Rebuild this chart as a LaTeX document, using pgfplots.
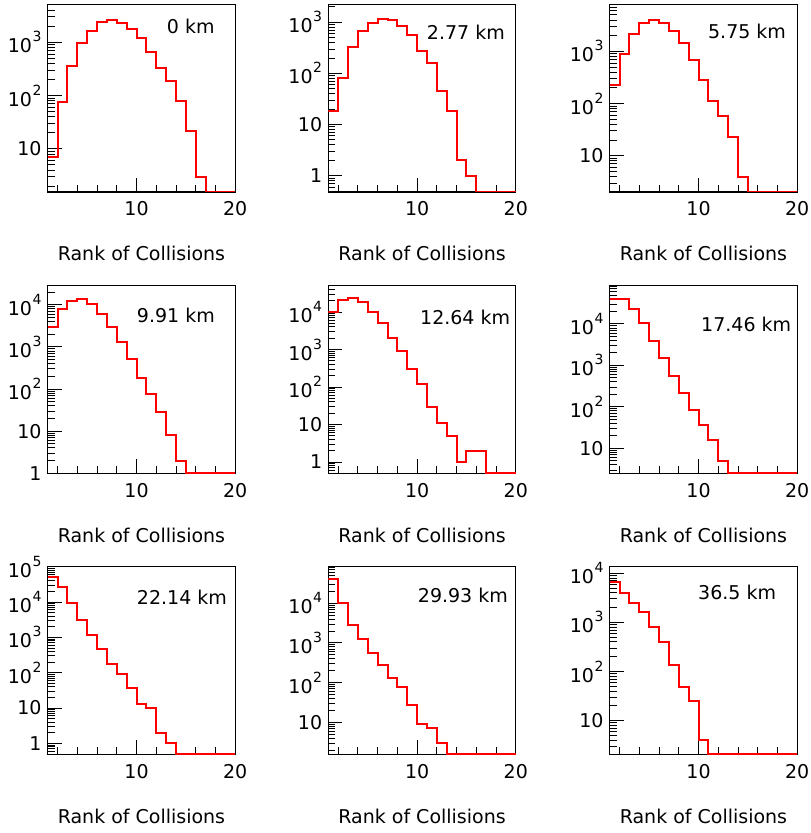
\documentclass[border=0pt]{standalone}
\usepackage{fontspec}
\setmainfont{DejaVu Sans}
\usepackage{pgfplots}
\pgfplotsset{compat=1.18}
\definecolor{rootred}{RGB}{255,0,0}
\newcommand{\myfnt}{\fontsize{19}{22}\selectfont}
\newcommand{\sx}[1]{10\kern0.6pt\raisebox{11pt}{\fontsize{14}{14}\selectfont #1}}
\pgfplotsset{
  every axis/.append style={
    scale only axis, width=187.5pt, height=187.5pt,
    anchor=south west,
    xmin=1, xmax=20,
    xtick={10,20}, xticklabels={10,20},
    minor xtick={2,4,6,8,12,14,16,18},
    tick align=inside, xtick pos=left, ytick pos=left,
    major tick length=14pt, minor tick length=7pt,
    tick style={black, line width=0.9pt},
    axis line style={black, line width=1.1pt},
    tick label style={font=\myfnt},
    xticklabel style={anchor=base, inner sep=0pt, yshift=-24pt},
    yticklabel style={anchor=east, inner sep=0pt, xshift=-6pt},
    xlabel={Rank of Collisions},
    label style={font=\myfnt},
    xlabel style={at={(rel axis cs:0.5,0)}, anchor=base, inner sep=0pt, yshift=-69pt},
  },
}
\begin{document}
\begin{tikzpicture}[x=1pt,y=1pt]
\useasboundingbox (0,0) rectangle (811,833);
% Row 1
\begin{semilogyaxis}[at={(47.7pt,641pt)}, ymin=1.55, ymax=5100,
  ytick={10,100,1000}, yticklabels={10,\sx{2},\sx{3}},
  minor ytick={2,3,4,5,6,7,8,9,20,30,40,50,60,70,80,90,200,300,400,500,600,700,800,900,2000,3000,4000,5000}]
\addplot[const plot, color=rootred, line width=2pt, mark=none] coordinates {(1,7.1) (2,77) (3,364) (4,980) (5,1650) (6,2440) (7,2590) (8,2330) (9,1750) (10,1190) (11,658) (12,334) (13,185) (14,80) (15,22) (16,3) (17,1.55) (20,1.55)};
\node[font=\myfnt, anchor=west, inner sep=0pt] at (rel axis cs:0.635,0.883) {0 km};
\end{semilogyaxis}
\begin{semilogyaxis}[at={(328.3pt,641pt)}, ymin=0.48, ymax=2220,
  ytick={1,10,100,1000}, yticklabels={1,10,\sx{2},\sx{3}},
  minor ytick={0.5,0.6,0.7,0.8,0.9,2,3,4,5,6,7,8,9,20,30,40,50,60,70,80,90,200,300,400,500,600,700,800,900,2000}]
\addplot[const plot, color=rootred, line width=2pt, mark=none] coordinates {(1,18) (2,80) (3,322) (4,684) (5,968) (6,1160) (7,1110) (8,846) (9,563) (10,277) (11,156) (12,45) (13,18) (14,2) (15,1) (16,0.48) (20,0.48)};
\node[font=\myfnt, anchor=west, inner sep=0pt] at (rel axis cs:0.525,0.853) {2.77 km};
\end{semilogyaxis}
\begin{semilogyaxis}[at={(609.7pt,641pt)}, ymin=2.02, ymax=7920,
  ytick={10,100,1000}, yticklabels={10,\sx{2},\sx{3}},
  minor ytick={3,4,5,6,7,8,9,20,30,40,50,60,70,80,90,200,300,400,500,600,700,800,900,2000,3000,4000,5000,6000,7000}]
\addplot[const plot, color=rootred, line width=2pt, mark=none] coordinates {(1,222) (2,887) (3,2170) (4,3480) (5,3910) (6,3480) (7,2510) (8,1440) (9,690) (10,286) (11,113) (12,59) (13,23) (14,4) (15,2.02) (20,2.02)};
\node[font=\myfnt, anchor=west, inner sep=0pt] at (rel axis cs:0.524,0.856) {5.75 km};
\end{semilogyaxis}
% Row 2
\begin{semilogyaxis}[at={(47.7pt,359.7pt)}, ymin=1, ymax=28200,
  ytick={1,10,100,1000,10000}, yticklabels={1,10,\sx{2},\sx{3},\sx{4}},
  minor ytick={2,3,4,5,6,7,8,9,20,30,40,50,60,70,80,90,200,300,400,500,600,700,800,900,2000,3000,4000,5000,6000,7000,8000,9000,20000}]
\addplot[const plot, color=rootred, line width=2pt, mark=none] coordinates {(1,2920) (2,7900) (3,12400) (4,13400) (5,10200) (6,6020) (7,2920) (8,1290) (9,521) (10,182) (11,75) (12,29) (13,8) (14,2) (15,1) (20,1)};
\node[font=\myfnt, anchor=west, inner sep=0pt] at (rel axis cs:0.475,0.84) {9.91 km};
\end{semilogyaxis}
\begin{semilogyaxis}[at={(328.3pt,359.7pt)}, ymin=0.5, ymax=50000,
  ytick={1,10,100,1000,10000}, yticklabels={1,10,\sx{2},\sx{3},\sx{4}},
  minor ytick={0.6,0.7,0.8,0.9,2,3,4,5,6,7,8,9,20,30,40,50,60,70,80,90,200,300,400,500,600,700,800,900,2000,3000,4000,5000,6000,7000,8000,9000,20000,30000,40000}]
\addplot[const plot, color=rootred, line width=2pt, mark=none] coordinates {(1,10000) (2,20800) (3,23500) (4,18000) (5,9800) (6,5000) (7,2040) (8,885) (9,300) (10,120) (11,29) (12,11) (13,5) (14,1) (15,2) (16,2) (17,0.5) (20,0.5)};
\node[font=\myfnt, anchor=west, inner sep=0pt] at (rel axis cs:0.489,0.831) {12.64 km};
\end{semilogyaxis}
\begin{semilogyaxis}[at={(609.7pt,359.7pt)}, ymin=2.5, ymax=83200,
  ytick={10,100,1000,10000}, yticklabels={10,\sx{2},\sx{3},\sx{4}},
  minor ytick={3,4,5,6,7,8,9,20,30,40,50,60,70,80,90,200,300,400,500,600,700,800,900,2000,3000,4000,5000,6000,7000,8000,9000,20000,30000,40000,50000,60000,70000,80000}]
\addplot[const plot, color=rootred, line width=2pt, mark=none] coordinates {(1,39100) (2,39100) (3,23300) (4,10400) (5,3980) (6,1500) (7,565) (8,217) (9,82) (10,36) (11,16) (12,5) (13,2.5) (20,2.5)};
\node[font=\myfnt, anchor=west, inner sep=0pt] at (rel axis cs:0.487,0.796) {17.46 km};
\end{semilogyaxis}
% Row 3
\begin{semilogyaxis}[at={(47.7pt,78.7pt)}, ymin=0.49, ymax=100000,
  ytick={1,10,100,1000,10000,100000}, yticklabels={1,10,\sx{2},\sx{3},\sx{4},\sx{5}},
  minor ytick={0.5,0.6,0.7,0.8,0.9,2,3,4,5,6,7,8,9,20,30,40,50,60,70,80,90,200,300,400,500,600,700,800,900,2000,3000,4000,5000,6000,7000,8000,9000,20000,30000,40000,50000,60000,70000,80000,90000}]
\addplot[const plot, color=rootred, line width=2pt, mark=none] coordinates {(1,50700) (2,26300) (3,9490) (4,3040) (5,1170) (6,468) (7,179) (8,93) (9,38) (10,13) (11,10) (12,2) (13,1) (14,0.49) (20,0.49)};
\node[font=\myfnt, anchor=west, inner sep=0pt] at (rel axis cs:0.475,0.84) {22.14 km};
\end{semilogyaxis}
\begin{semilogyaxis}[at={(328.3pt,78.7pt)}, ymin=1.56, ymax=83000,
  ytick={10,100,1000,10000}, yticklabels={10,\sx{2},\sx{3},\sx{4}},
  minor ytick={2,3,4,5,6,7,8,9,20,30,40,50,60,70,80,90,200,300,400,500,600,700,800,900,2000,3000,4000,5000,6000,7000,8000,9000,20000,30000,40000,50000,60000,70000,80000}]
\addplot[const plot, color=rootred, line width=2pt, mark=none] coordinates {(1,40000) (2,9940) (3,2830) (4,1230) (5,566) (6,273) (7,133) (8,79) (9,27) (10,9) (11,7) (12,3) (13,1.56) (20,1.56)};
\node[font=\myfnt, anchor=west, inner sep=0pt] at (rel axis cs:0.477,0.845) {29.93 km};
\end{semilogyaxis}
\begin{semilogyaxis}[at={(609.7pt,78.7pt)}, ymin=2.07, ymax=13500,
  ytick={10,100,1000,10000}, yticklabels={10,\sx{2},\sx{3},\sx{4}},
  minor ytick={3,4,5,6,7,8,9,20,30,40,50,60,70,80,90,200,300,400,500,600,700,800,900,2000,3000,4000,5000,6000,7000,8000,9000}]
\addplot[const plot, color=rootred, line width=2pt, mark=none] coordinates {(1,6690) (2,3890) (3,2500) (4,1640) (5,791) (6,404) (7,134) (8,48) (9,25) (10,4) (11,2.07) (20,2.07)};
\node[font=\myfnt, anchor=west, inner sep=0pt] at (rel axis cs:0.471,0.861) {36.5 km};
\end{semilogyaxis}
\end{tikzpicture}
\end{document}
